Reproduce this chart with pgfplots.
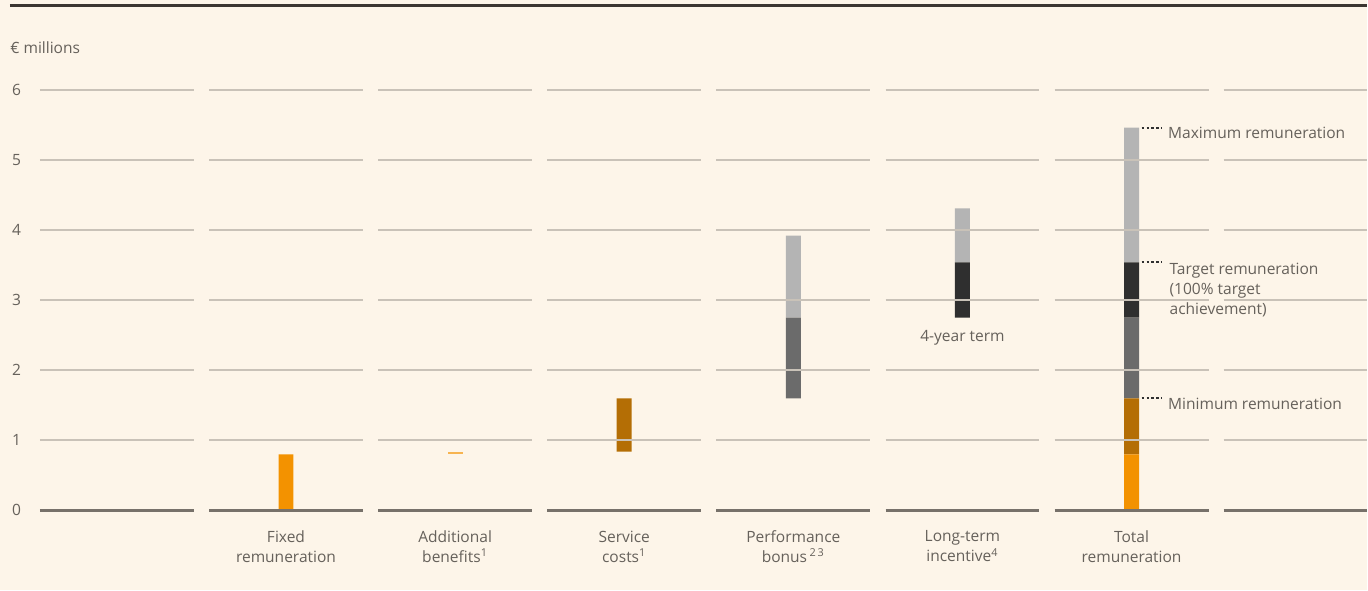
\documentclass[border=0pt]{standalone}
\usepackage{fontspec}
\setmainfont{Open Sans}
\usepackage{pgfplots}
\pgfplotsset{compat=1.18}
\definecolor{bg}{HTML}{FDF5E9}
\definecolor{gridc}{HTML}{C9C2B8}
\definecolor{zeroc}{HTML}{77716A}
\definecolor{topc}{HTML}{3C3631}
\definecolor{txt}{HTML}{66615B}
\definecolor{cOrange}{HTML}{F39200}
\definecolor{cLOrange}{HTML}{F7B450}
\definecolor{cBrown}{HTML}{B46E05}
\definecolor{cDGrey}{HTML}{6B6B6B}
\definecolor{cBlack}{HTML}{2F2F2F}
\definecolor{cLGrey}{HTML}{B4B4B4}
\newcommand{\sz}{\fontsize{7.8}{10}\selectfont}
\begin{document}
\begin{tikzpicture}
\fill[bg] (0,-40bp) rectangle (684bp,255.5bp);
\begin{axis}[
  at={(0,0)}, anchor=south west,
  scale only axis,
  width=684bp, height=255.5bp,
  xmin=-0.6911, xmax=7.3893,
  ymin=0, ymax=7.2823,
  clip=false,
  axis line style={draw=none},
  major tick length=0pt,
  tick style={draw=none},
  ybar stacked,
  bar width=7.5bp,
  xtick={1,2,3,4,5,6},
  xticklabels={{Fixed\\remuneration},{Additional\\benefits\textsuperscript{1}},{Service\\costs\textsuperscript{1}},{Performance\\bonus\,\textsuperscript{2\,3}},{Long-term\\incentive\textsuperscript{4}},{Total\\remuneration}},
  xticklabel style={align=center, anchor=north, inner sep=0pt, yshift=-10bp, font=\sz, text=txt},
  ytick={0,1,2,3,4,5,6},
  yticklabel style={anchor=center, inner sep=0pt, xshift=8.3bp, font=\sz, text=txt},
  /pgf/number format/assume math mode=true,
]
% top rule
\draw[topc, line width=1.5bp] (axis cs:-0.632,7.211) -- (axis cs:7.3893,7.211);
% grid segments
\foreach \cc in {0,1,2,3,4,5,6}{
  \foreach \yy in {1,2,3,4,5,6}{
    \edef\temp{\noexpand\draw[gridc, line width=1bp] (axis cs:\cc-0.455,\yy) -- (axis cs:\cc+0.455,\yy);}\temp
  }
  \edef\temp{\noexpand\draw[zeroc, line width=1.3bp] (axis cs:\cc-0.455,0) -- (axis cs:\cc+0.455,0);}\temp
}
\foreach \yy in {1,2,3,4,5,6}{
  \edef\temp{\noexpand\draw[gridc, line width=1bp] (axis cs:6.545,\yy) -- (axis cs:7.3893,\yy);}\temp
}
\draw[zeroc, line width=1.3bp] (axis cs:6.545,0) -- (axis cs:7.3893,0);

% bars
\addplot[draw=none, fill=none] coordinates {(1,0) (2,0.80) (3,0.84) (4,1.60) (5,2.75) (6,0)};
\addplot[draw=none, fill=cOrange] coordinates {(1,0.80) (2,0) (3,0) (4,0) (5,0) (6,0.80)};
\addplot[draw=none, fill=cLOrange] coordinates {(1,0) (2,0.04) (3,0) (4,0) (5,0) (6,0)};
\addplot[draw=none, fill=cBrown] coordinates {(1,0) (2,0) (3,0.76) (4,0) (5,0) (6,0.80)};
\addplot[draw=none, fill=cDGrey] coordinates {(1,0) (2,0) (3,0) (4,1.15) (5,0) (6,1.15)};
\addplot[draw=none, fill=cBlack] coordinates {(1,0) (2,0) (3,0) (4,0) (5,0.79) (6,0.79)};
\addplot[draw=none, fill=cLGrey] coordinates {(1,0) (2,0) (3,0) (4,1.17) (5,0.77) (6,1.92)};

% annotations
\node[font=\sz, text=txt, anchor=west, inner sep=0pt] at (axis cs:-0.632,6.598) {€ millions};
\node[font=\sz, text=txt, anchor=center, inner sep=0pt] at (axis cs:5,2.47) {4-year term};
\draw[cBlack, line width=0.9bp, dash pattern=on 1.2bp off 1.2bp] (axis cs:6.06,5.46) -- (axis cs:6.18,5.46);
\draw[cBlack, line width=0.9bp, dash pattern=on 1.2bp off 1.2bp] (axis cs:6.06,3.54) -- (axis cs:6.18,3.54);
\draw[cBlack, line width=0.9bp, dash pattern=on 1.2bp off 1.2bp] (axis cs:6.06,1.60) -- (axis cs:6.18,1.60);
\node[font=\sz, text=txt, anchor=base west, inner sep=0pt] at (axis cs:6.214,5.30) {Maximum remuneration};
\node[font=\sz, text=txt, anchor=north west, align=left, fill=bg, inner xsep=1.5bp, inner ysep=1bp] at (axis cs:6.205,3.56) {Target remuneration\\(100\% target\\achievement)};
\node[font=\sz, text=txt, anchor=base west, inner sep=0pt] at (axis cs:6.214,1.44) {Minimum remuneration};
\end{axis}
\end{tikzpicture}
\end{document}
